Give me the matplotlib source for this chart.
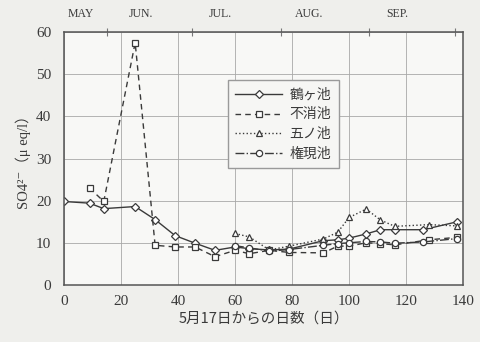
import numpy as np
import matplotlib.pyplot as plt

plt.rcParams["font.family"] = ["Liberation Serif", "DejaVu Serif", "Noto Sans CJK JP"]

# sampling days counted from May 17
days_tsuru = [0, 9, 14, 25, 32, 39, 46, 53, 60, 65, 72, 79, 91, 96, 100, 106, 111, 116, 126, 138]
so4_tsuru = [19.8, 19.4, 18.1, 18.6, 15.5, 11.7, 9.9, 8.2, 9.0, 8.6, 8.3, 8.5, 10.5, 10.7, 11.1,
             12.1, 13.1, 13.1, 13.1, 15.0]

days_fusho = [9, 14, 25, 32, 39, 46, 53, 60, 65, 72, 79, 91, 96, 100, 106, 111, 116, 128, 138]
so4_fusho = [23.0, 19.8, 57.5, 9.4, 9.0, 9.0, 6.7, 8.2, 7.4, 8.2, 7.7, 7.6, 9.2, 9.2, 10.0,
             9.8, 9.5, 10.7, 11.3]

days_gono = [60, 65, 72, 79, 91, 96, 100, 106, 111, 116, 128, 138]
so4_gono = [12.2, 11.4, 8.3, 9.2, 10.9, 12.5, 16.0, 18.0, 15.4, 13.9, 14.3, 14.0]

days_gongen = [60, 65, 72, 79, 91, 96, 100, 106, 111, 116, 126, 138]
so4_gongen = [9.3, 8.8, 8.0, 8.4, 9.4, 9.8, 10.0, 10.3, 10.2, 9.9, 10.2, 11.0]

month_edges = [15, 45, 76, 107, 137]
month_label_pos = [6, 27, 55, 86, 117]
month_names = ["MAY", "JUN.", "JUL.", "AUG.", "SEP."]

ink = "#3a3a3a"

fig = plt.figure(figsize=(4.8, 3.42), dpi=100, facecolor="#efefec")
ax = fig.add_axes([0.133, 0.167, 0.832, 0.739], facecolor="#f8f8f6")

mk = dict(color=ink, lw=1.0, markersize=4.5, markerfacecolor="white",
          markeredgecolor=ink, markeredgewidth=0.9)
ax.plot(days_tsuru, so4_tsuru, "-", marker="D", label="鶴ヶ池", **{**mk, "markersize": 3.8})
ax.plot(days_fusho, so4_fusho, "--", marker="s", label="不消池", dashes=(4, 3), **mk)
ax.plot(days_gono, so4_gono, ":", marker="^", label="五ノ池", **mk)
ax.plot(days_gongen, so4_gongen, "-.", marker="o", label="権現池", **mk)

ax.set_xlim(0, 140)
ax.set_ylim(0, 60)
ax.set_xticks(np.arange(0, 141, 20))
ax.set_yticks(np.arange(0, 61, 10))
ax.grid(True, color="#a8a8a8", lw=0.6)
ax.set_axisbelow(True)
ax.tick_params(axis="both", length=0, labelsize=11, colors=ink)
ax.tick_params(axis="y", pad=9)
ax.tick_params(axis="x", pad=7)
for s in ax.spines.values():
    s.set_color("#555555")
    s.set_linewidth(1.1)

ax.set_xlabel("5月17日からの日数（日）", fontsize=10.5, color=ink, labelpad=3,
              family=["Noto Sans CJK JP", "DejaVu Sans"])
ax.set_ylabel("SO4²⁻（μ eq/l）", fontsize=10.5, color=ink, labelpad=4,
              family=["Liberation Serif", "DejaVu Serif", "Noto Sans CJK JP"])

# month scale along the top edge
top = ax.secondary_xaxis("top")
top.set_xticks(month_edges)
top.set_xticklabels([])
top.set_xticks(month_label_pos, minor=True)
top.set_xticklabels(month_names, minor=True, fontsize=8.5)
top.tick_params(axis="x", which="major", direction="inout", length=6, color="#777777")
top.tick_params(axis="x", which="minor", length=0, pad=9, colors=ink)
top.spines["top"].set_visible(False)

leg = ax.legend(loc="upper left", bbox_to_anchor=(0.41, 0.81),
                handlelength=3.4, handletextpad=0.5, frameon=True, fancybox=False,
                borderpad=0.55, borderaxespad=0, labelspacing=0.4,
                prop={"family": ["Noto Sans CJK JP", "DejaVu Sans"], "size": 10})
leg.get_frame().set_edgecolor("#9a9a9a")
leg.get_frame().set_facecolor("#f6f6f4")
leg.get_frame().set_alpha(1)
for t in leg.get_texts():
    t.set_color(ink)

fig.savefig("out.png", dpi=100, facecolor=fig.get_facecolor())
